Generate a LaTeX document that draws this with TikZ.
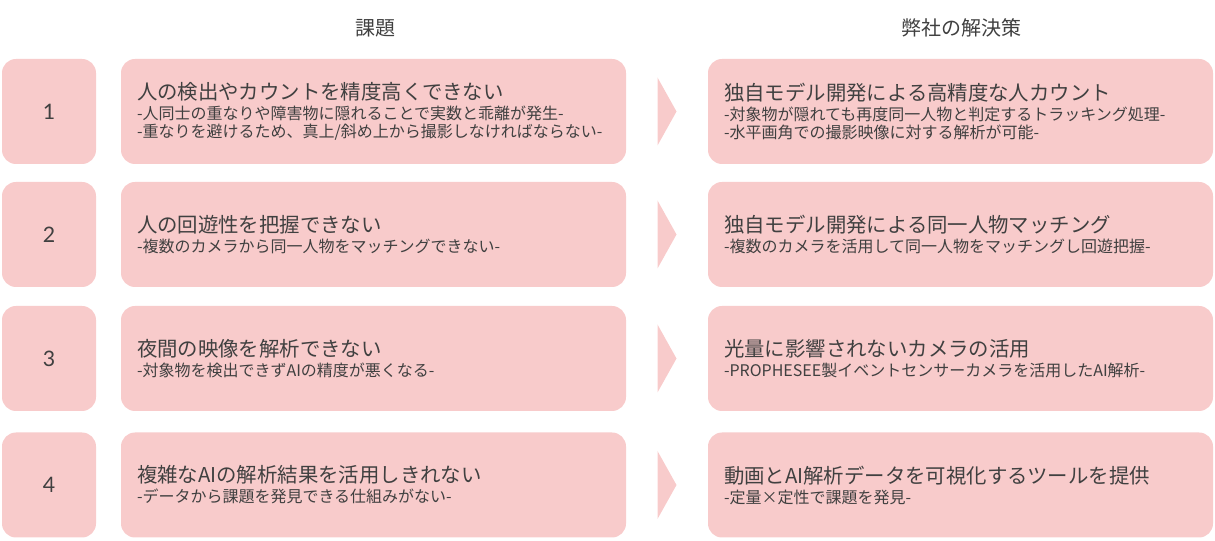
\documentclass[tikz,border=0pt]{standalone}
\usepackage{fontspec}
\setmainfont{Noto Sans CJK JP}
\newfontfamily\numfont{Lato}
\usepackage{tikz}
\usetikzlibrary{positioning, calc}

\definecolor{boxpink}{HTML}{F8CBCB}
\definecolor{txtgray}{HTML}{404040}

\tikzset{
  numbox/.style={fill=boxpink, rounded corners=10.5pt, minimum width=70.5pt,
    minimum height=78.75pt, inner sep=0pt, font=\numfont\fontsize{16}{18}\selectfont},
  textbox/.style={fill=boxpink, rounded corners=10.5pt, minimum width=378.75pt,
    minimum height=78.75pt, inner xsep=12pt, inner ysep=0pt, text width=354.75pt,
    align=left, font=\fontsize{12}{13.5}\selectfont},
  hdr/.style={font=\fontsize{15}{17}\selectfont},
  tri/.style={fill=boxpink},
}
\newcommand{\ttl}[1]{{\fontsize{15.3}{17}\selectfont #1}\\[1.5pt]}

\begin{document}
\begin{tikzpicture}[x=0.75pt, y=-0.75pt, text=txtgray]
  \useasboundingbox (0,0) rectangle (1215,541);

  % ---------- cabeçalhos ----------
  \node[hdr] (h1) at (375,28) {課題};
  \node[hdr] (h2) at (961,28) {弊社の解決策};

  % ---------- 1 ----------
  \node[numbox] (n1) at (49,111.5) {1};
  \node[textbox] (p1) at (373.5,111.5) {\ttl{人の検出やカウントを精度高くできない}
    -人同士の重なりや障害物に隠れることで実数と乖離が発生-\\
    -重なりを避けるため、真上/斜め上から撮影しなければならない-};
  \node[textbox] (s1) at (960.5,111.5) {\ttl{独自モデル開発による高精度な人カウント}
    -対象物が隠れても再度同一人物と判定するトラッキング処理-\\
    -水平画角での撮影映像に対する解析が可能-};

  % ---------- 2 ----------
  \node[numbox] (n2) at (49,234.5) {2};
  \node[textbox] (p2) at (373.5,234.5) {\ttl{人の回遊性を把握できない}
    -複数のカメラから同一人物をマッチングできない-};
  \node[textbox] (s2) at (960.5,234.5) {\ttl{独自モデル開発による同一人物マッチング}
    -複数のカメラを活用して同一人物をマッチングし回遊把握-};

  % ---------- 3 ----------
  \node[numbox] (n3) at (49,358.5) {3};
  \node[textbox] (p3) at (373.5,358.5) {\ttl{夜間の映像を解析できない}
    -対象物を検出できずAIの精度が悪くなる-};
  \node[textbox] (s3) at (960.5,358.5) {\ttl{光量に影響されないカメラの活用}
    -PROPHESEE製イベントセンサーカメラを活用したAI解析-};

  % ---------- 4 ----------
  \node[numbox] (n4) at (49,485) {4};
  \node[textbox] (p4) at (373.5,485) {\ttl{複雑なAIの解析結果を活用しきれない}
    -データから課題を発見できる仕組みがない-};
  \node[textbox] (s4) at (960.5,485) {\ttl{動画とAI解析データを可視化するツールを提供}
    -定量×定性で課題を発見-};

  % setas entre as caixas
  \foreach \i in {1,...,4}{
    \coordinate (a\i) at ($(p\i.east)!0.5!(s\i.west)$);
    \fill[tri] ($(a\i)+(-9.5,-34)$) -- ++(19,34) -- ++(-19,34) -- cycle;
  }
\end{tikzpicture}
\end{document}
